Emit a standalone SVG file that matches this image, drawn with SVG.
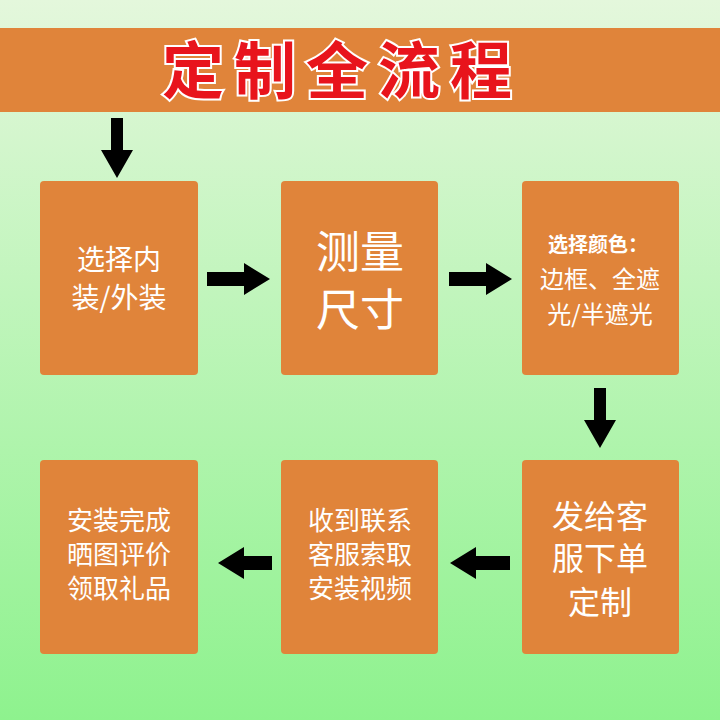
<svg xmlns="http://www.w3.org/2000/svg" width="720" height="720" viewBox="0 0 720 720">
<defs>
<linearGradient id="bg" x1="0" y1="0" x2="0" y2="1"><stop offset="0" stop-color="#e4f7dc"/><stop offset="1" stop-color="#8ef28e"/></linearGradient>
<style>
.box{fill:#e0843a}
.t{fill:#fff;font-family:"Noto Sans CJK SC",sans-serif;text-anchor:middle}
.ar{fill:#000}
</style>
</defs>
<rect width="720" height="720" fill="url(#bg)"/>
<rect x="0" y="28" width="720" height="84" fill="#e0843a"/>
<text x="342" y="94" font-size="62" font-weight="bold" font-family="Noto Sans CJK SC,sans-serif" text-anchor="middle" fill="#e8141c" stroke="#fff" stroke-width="4" paint-order="stroke" letter-spacing="10">定制全流程</text>
<g id="connectors">
<polygon class="ar" points="111,118 123,118 123,150 133,150 117,178 101,150 111,150"/>
<polygon class="ar" points="207,272 244,272 244,263 270,279 244,295 244,286 207,286"/>
<polygon class="ar" points="449,272 486,272 486,263 512,279 486,295 486,286 449,286"/>
<polygon class="ar" points="594,388 606,388 606,420 616,420 600,448 584,420 594,420"/>
<polygon class="ar" points="510,556 476,556 476,547 450,563 476,579 476,570 510,570"/>
<polygon class="ar" points="272,556 244,556 244,547 218,563 244,579 244,570 272,570"/>
</g>
<g id="n1"><rect class="box" x="40" y="181" width="158" height="194" rx="4"/><text class="t" font-size="28" x="119" y="270">选择内</text><text class="t" font-size="28" x="119" y="308">装/外装</text></g>
<g id="n2"><rect class="box" x="281" y="181" width="157" height="194" rx="4"/><text class="t" font-size="44" x="360" y="268">测量</text><text class="t" font-size="44" x="360" y="326">尺寸</text></g>
<g id="n3"><rect class="box" x="522" y="181" width="157" height="194" rx="4"/><text class="t" font-size="20" font-weight="bold" x="598" y="252">选择颜色：</text><text class="t" font-size="24" x="600" y="288">边框、全遮</text><text class="t" font-size="24" x="600" y="323">光/半遮光</text></g>
<g id="n4"><rect class="box" x="522" y="460" width="157" height="194" rx="4"/><text class="t" font-size="32" x="600" y="528">发给客</text><text class="t" font-size="32" x="600" y="570">服下单</text><text class="t" font-size="32" x="600" y="614">定制</text></g>
<g id="n5"><rect class="box" x="281" y="460" width="157" height="194" rx="4"/><text class="t" font-size="26" x="360" y="530">收到联系</text><text class="t" font-size="26" x="360" y="564">客服索取</text><text class="t" font-size="26" x="360" y="598">安装视频</text></g>
<g id="n6"><rect class="box" x="40" y="460" width="158" height="194" rx="4"/><text class="t" font-size="26" x="119" y="530">安装完成</text><text class="t" font-size="26" x="119" y="564">晒图评价</text><text class="t" font-size="26" x="119" y="598">领取礼品</text></g>
</svg>
